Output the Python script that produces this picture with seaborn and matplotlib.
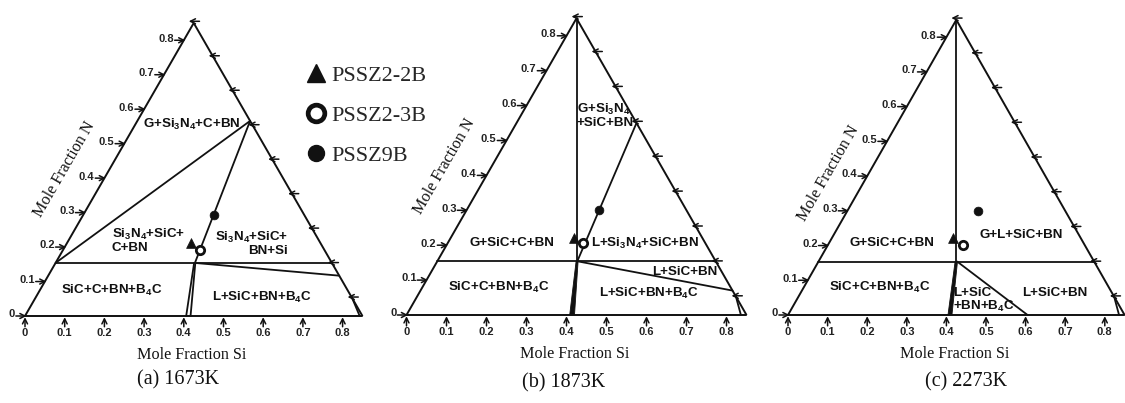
import numpy as np
import pandas as pd
import seaborn as sns
import matplotlib.pyplot as plt
from matplotlib.lines import Line2D

sns.set_theme(style="white")
plt.rcParams['font.family'] = ['Liberation Sans', 'DejaVu Sans']
plt.rcParams['mathtext.fontset'] = 'custom'
plt.rcParams['mathtext.rm'] = 'Liberation Sans:bold'
plt.rcParams['mathtext.it'] = 'Liberation Sans:bold'
plt.rcParams['mathtext.bf'] = 'Liberation Sans:bold'

INK = "#111111"
H = np.sqrt(3) / 2     # height factor of the triangle
SIDE = 0.85            # the diagram spans 0..0.85

# ---- data: (Si, N) mole fractions ----
captions = ["(a) 1673K", "(b) 1873K", "(c) 2273K"]
si_ticks = [0, 0.1, 0.2, 0.3, 0.4, 0.5, 0.6, 0.7, 0.8]
n_ticks = [0, 0.1, 0.2, 0.3, 0.4, 0.5, 0.6, 0.7, 0.8]
tick_labels = ["0", "0.1", "0.2", "0.3", "0.4", "0.5", "0.6", "0.7", "0.8"]
right_ticks = [0.055, 0.155, 0.255, 0.355, 0.455, 0.555, 0.655, 0.755, 0.855]

samples = ["PSSZ2-2B", "PSSZ2-3B", "PSSZ9B"]
sample_si = [[0.418, 0.441, 0.476],
             [0.418, 0.442, 0.481],
             [0.417, 0.441, 0.480]]
sample_n = [[0.212, 0.191, 0.293],
            [0.220, 0.205, 0.300],
            [0.221, 0.202, 0.300]]

# phase boundaries: segments (si0, n0, si1, n1)
bounds_a = [(0.077, 0.154, 0.773, 0.154),
            (0.077, 0.154, 0.567, 0.566),
            (0.567, 0.566, 0.428, 0.154),
            (0.426, 0.154, 0.406, 0.0),
            (0.429, 0.154, 0.417, 0.0),
            (0.428, 0.154, 0.7915, 0.117),
            (0.823, 0.055, 0.843, 0.0)]
bounds_b = [(0.077, 0.154, 0.773, 0.154),
            (0.425, 0.85, 0.425, 0.154),
            (0.427, 0.154, 0.575, 0.55),
            (0.427, 0.154, 0.815, 0.07),
            (0.823, 0.055, 0.836, 0.0)]
bounds_c = [(0.077, 0.154, 0.773, 0.154),
            (0.425, 0.85, 0.425, 0.154),
            (0.427, 0.154, 0.605, 0.0),
            (0.823, 0.055, 0.836, 0.0)]
# thick wedge under the junction (si, n corners)
wedge_b = [(0.424, 0.154), (0.429, 0.154), (0.420, 0.0), (0.408, 0.0)]
wedge_c = [(0.422, 0.154), (0.428, 0.154), (0.414, 0.0), (0.404, 0.0)]

# phase field labels: text, si, n, ha
labels_a = [("G+Si$_3$N$_4$+C+BN", 0.42, 0.557, "center"),
            ("Si$_3$N$_4$+SiC+\nC+BN", 0.218, 0.218, "left"),
            ("Si$_3$N$_4$+SiC+\nBN+Si", 0.663, 0.211, "right"),
            ("SiC+C+BN+B$_4$C", 0.218, 0.075, "center"),
            ("L+SiC+BN+B$_4$C", 0.596, 0.053, "center")]
labels_b = [("G+Si$_3$N$_4$\n+SiC+BN", 0.4255, 0.572, "left"),
            ("G+SiC+C+BN", 0.263, 0.205, "center"),
            ("L+Si$_3$N$_4$+SiC+BN", 0.596, 0.205, "center"),
            ("L+SiC+BN", 0.696, 0.124, "center"),
            ("SiC+C+BN+B$_4$C", 0.23, 0.079, "center"),
            ("L+SiC+BN+B$_4$C", 0.605, 0.062, "center")]
labels_c = [("G+SiC+C+BN", 0.262, 0.206, "center"),
            ("G+L+SiC+BN", 0.59, 0.23, "center"),
            ("SiC+C+BN+B$_4$C", 0.232, 0.08, "center"),
            ("L+SiC\n+BN+B$_4$C", 0.417, 0.042, "left"),
            ("L+SiC+BN", 0.674, 0.064, "center")]

# panel placement in pixels: origin x, origin y (from top), x scale, y scale
layout = [(25, 316, 397, 398), (406.5, 315, 400, 403), (788, 315, 396, 401)]
caption_pos = [(0.385, -0.161), (0.392, -0.1695), (0.449, -0.166)]
nlabel_pos = [(0.10, 0.424), (0.096, 0.425), (0.102, 0.408)]

W, HT = 1125, 403
fig = plt.figure(figsize=(W / 100, HT / 100), dpi=100)

serif = ['Liberation Serif', 'DejaVu Serif']


def arrow(ax, tip, tail):
    ax.annotate("", xy=tip, xytext=tail,
                arrowprops=dict(arrowstyle="->", lw=1.1, color=INK,
                                shrinkA=0, shrinkB=0, mutation_scale=9))


all_bounds = [bounds_a, bounds_b, bounds_c]
all_wedges = [None, wedge_b, wedge_c]
all_labels = [labels_a, labels_b, labels_c]

for i in range(3):
    ox, oy, sx, sy = layout[i]
    ax = fig.add_axes([0, 0, 1, 1])
    ax.set_xlim(-ox / sx, (W - ox) / sx)
    ax.set_ylim((oy - HT) / sy, oy / sy)
    ax.axis("off")
    ax.patch.set_alpha(0)

    # frame
    ax.plot([0, SIDE, SIDE / 2, 0], [0, 0, SIDE * H, 0], color=INK, lw=1.4,
            solid_joinstyle="miter")

    for s0, n0, s1, n1 in all_bounds[i]:
        ax.plot([s0, s1], [n0 * H, n1 * H], color=INK, lw=1.3)
    if all_wedges[i] is not None:
        w = np.array(all_wedges[i])
        ax.fill(w[:, 0], w[:, 1] * H, color=INK, lw=0.6, ec=INK)

    # bottom ticks (Si)
    for t, lab in zip(si_ticks, tick_labels):
        arrow(ax, (t, -0.003), (t, -0.027))
        ax.text(t, -0.042, lab, ha="center", va="center", fontsize=8,
                fontweight="bold", color="#222222")
    # left ticks (N)
    for t, lab in zip(n_ticks, tick_labels):
        ex = t / 2
        arrow(ax, (ex + 0.004, t * H), (ex - 0.023, t * H))
        ax.text(ex - 0.025, t * H + 0.004, lab, ha="right", va="center",
                fontsize=8, fontweight="bold", color="#222222")
    # right edge ticks
    for t in right_ticks:
        ex = SIDE - t / 2
        arrow(ax, (ex - 0.01, t * H), (ex + 0.017, t * H))

    for txt, s, n, ha in all_labels[i]:
        ax.text(s, n * H, txt, ha=ha, va="center", ma=ha, fontsize=9.6,
                fontweight="bold", color=INK, linespacing=1.0)

    ax.text(0.42, -0.097, "Mole Fraction Si", ha="center", va="center",
            fontsize=11.6, family=serif, color=INK)
    nx, ny = nlabel_pos[i]
    ax.text(nx, ny * H, "Mole Fraction N", ha="center", va="center",
            rotation=60, rotation_mode="anchor", fontsize=11.6, family=serif,
            color=INK)
    cx, cy = caption_pos[i]
    ax.text(cx, cy, captions[i], ha="center", va="center", fontsize=14.5,
            family=serif, color=INK)

    pts = pd.DataFrame({"si": sample_si[i],
                        "y": np.array(sample_n[i]) * H,
                        "sample": samples})
    sns.scatterplot(data=pts[pts["sample"] == samples[0]], x="si", y="y",
                    marker="^", s=50, color=INK, edgecolor=INK, lw=0.5,
                    legend=False, ax=ax, zorder=5)
    sns.scatterplot(data=pts[pts["sample"] == samples[1]], x="si", y="y",
                    marker="o", s=36, color="white", edgecolor=INK, lw=2.0,
                    legend=False, ax=ax, zorder=5)
    sns.scatterplot(data=pts[pts["sample"] == samples[2]], x="si", y="y",
                    marker="o", s=40, color=INK, edgecolor=INK, lw=0.5,
                    legend=False, ax=ax, zorder=5)
    ax.set_xlabel("")
    ax.set_ylabel("")

handles = [Line2D([], [], ls="none", marker="^", ms=13.5, color=INK),
           Line2D([], [], ls="none", marker="o", ms=12, mfc="white",
                  mec=INK, mew=3.4),
           Line2D([], [], ls="none", marker="o", ms=11.5, color=INK)]
fig.legend(handles, samples, loc="upper left",
           bbox_to_anchor=(307 / W, 1 - 65 / HT), frameon=False,
           prop={"family": serif, "size": 16}, borderpad=0,
           borderaxespad=0, handlelength=0.8, handletextpad=0.3,
           labelspacing=0.88)

fig.savefig("out.png", dpi=100, facecolor="white")
